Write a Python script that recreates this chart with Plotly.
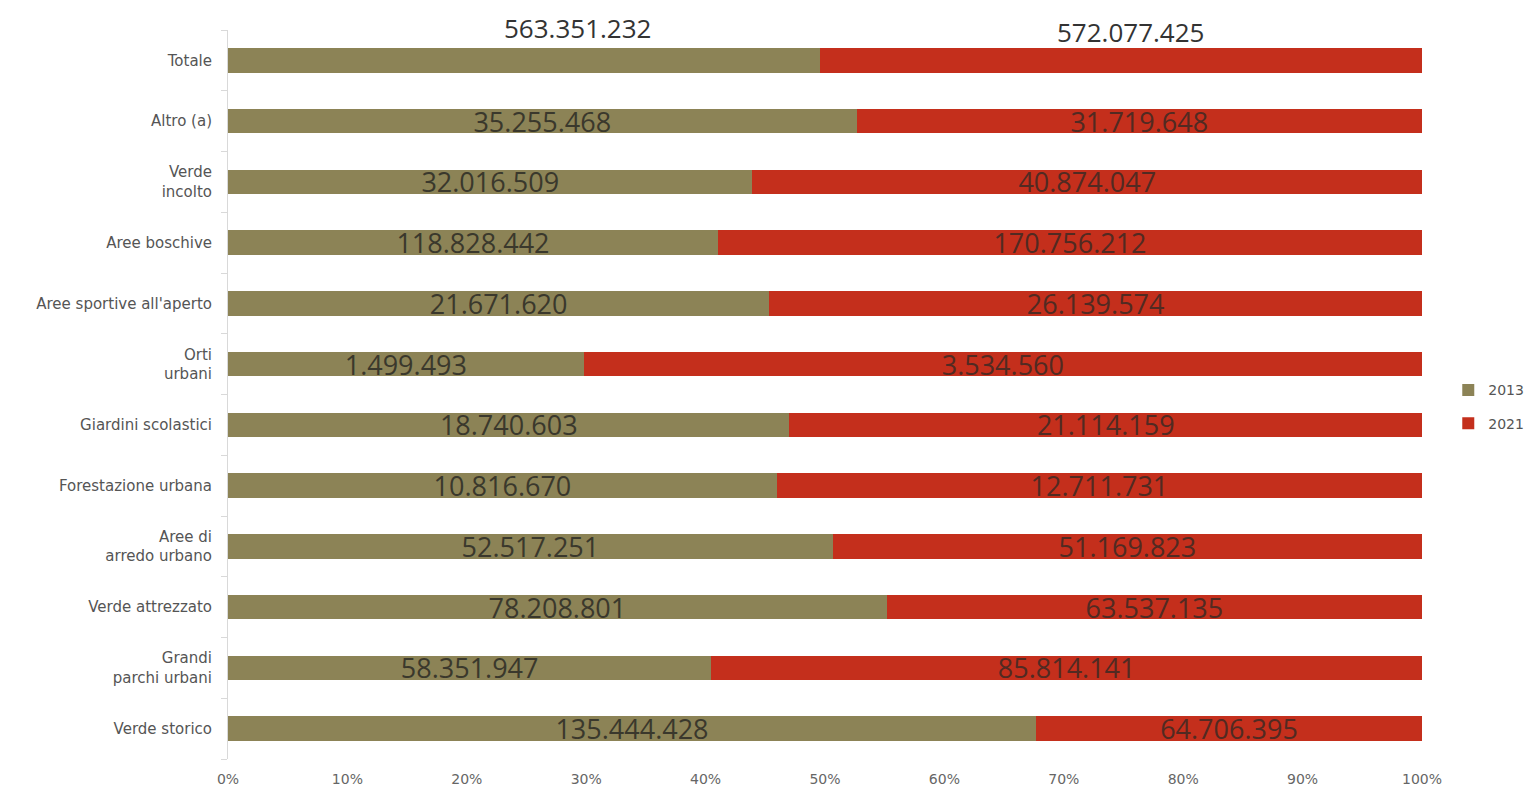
import plotly.graph_objects as go

categories = ["Verde storico", "Grandi<br>parchi urbani", "Verde attrezzato", "Aree di<br>arredo urbano",
              "Forestazione urbana", "Giardini scolastici", "Orti<br>urbani", "Aree sportive all'aperto",
              "Aree boschive", "Verde<br>incolto", "Altro (a)", "Totale"]
values_2013 = [135444428, 58351947, 78208801, 52517251, 10816670, 18740603, 1499493, 21671620,
               118828442, 32016509, 35255468, 563351232]
values_2021 = [64706395, 85814141, 63537135, 51169823, 12711731, 21114159, 3534560, 26139574,
               170756212, 40874047, 31719648, 572077425]
x_ticks = [0, 10, 20, 30, 40, 50, 60, 70, 80, 90, 100]

def fmt(v):
    return f"{v:,}".replace(",", ".")

col13 = "#8c8356"
col21 = "#c42f1c"
font = "Open Sans"
axfont = "DejaVu Sans"

text13 = [fmt(v) if c != "Totale" else "" for c, v in zip(categories, values_2013)]
text21 = [fmt(v) if c != "Totale" else "" for c, v in zip(categories, values_2021)]

fig = go.Figure()
fig.add_trace(go.Bar(name="2013", y=categories, x=values_2013, orientation="h",
                     marker=dict(color=col13, line=dict(width=0)), legendgroup="a",
                     text=text13, textposition="inside", insidetextanchor="middle",
                     textfont=dict(family=font, size=27, color="#3a382c")))
fig.add_trace(go.Bar(name="2021", y=categories, x=values_2021, orientation="h",
                     marker=dict(color=col21, line=dict(width=0)), legendgroup="b",
                     text=text21, textposition="inside", insidetextanchor="middle",
                     textfont=dict(family=font, size=27, color="#512a22")))

# Totale labels above the bar
tot13 = values_2013[-1]
tot21 = values_2021[-1]
s = tot13 + tot21
p13 = tot13 / s * 100
fig.add_annotation(x=p13 / 2 + 4.5, y="Totale", text=fmt(tot13), showarrow=False, yshift=32,
                   font=dict(family=font, size=26, color="#333333"))
fig.add_annotation(x=p13 + (100 - p13) / 2 + 0.8, y="Totale", text=fmt(tot21), showarrow=False, yshift=28,
                   font=dict(family=font, size=26, color="#333333"))

fig.update_layout(
    width=1535, height=792,
    barmode="stack", barnorm="percent", bargap=0.6,
    paper_bgcolor="white", plot_bgcolor="white",
    margin=dict(l=228, r=113, t=30, b=33, autoexpand=False),
    uniformtext=dict(mode="show", minsize=27),
    legend=dict(x=1.022, y=0.483, xanchor="left", yanchor="middle",
                font=dict(family=axfont, size=14, color="#555555"), traceorder="grouped",
                tracegroupgap=12, itemwidth=30),
    font=dict(family=axfont, color="#555555"),
    showlegend=True,
)
fig.update_xaxes(range=[0, 100], tickvals=x_ticks, ticktext=[f"{t}%" for t in x_ticks],
                 showgrid=False, zeroline=False, showline=False, ticklabelstandoff=10,
                 tickfont=dict(family=axfont, size=14, color="#666666"))
fig.update_yaxes(categoryorder="array", categoryarray=categories, range=[-0.5, len(categories) - 0.5],
                 showgrid=False, zeroline=False, ticklabelstandoff=12,
                 showline=True, linecolor="#d9d9d9", linewidth=1,
                 ticks="outside", tickson="boundaries", ticklen=6, tickcolor="#d9d9d9",
                 tickfont=dict(family=axfont, size=15, color="#555555"))

fig.write_html("out.html")
